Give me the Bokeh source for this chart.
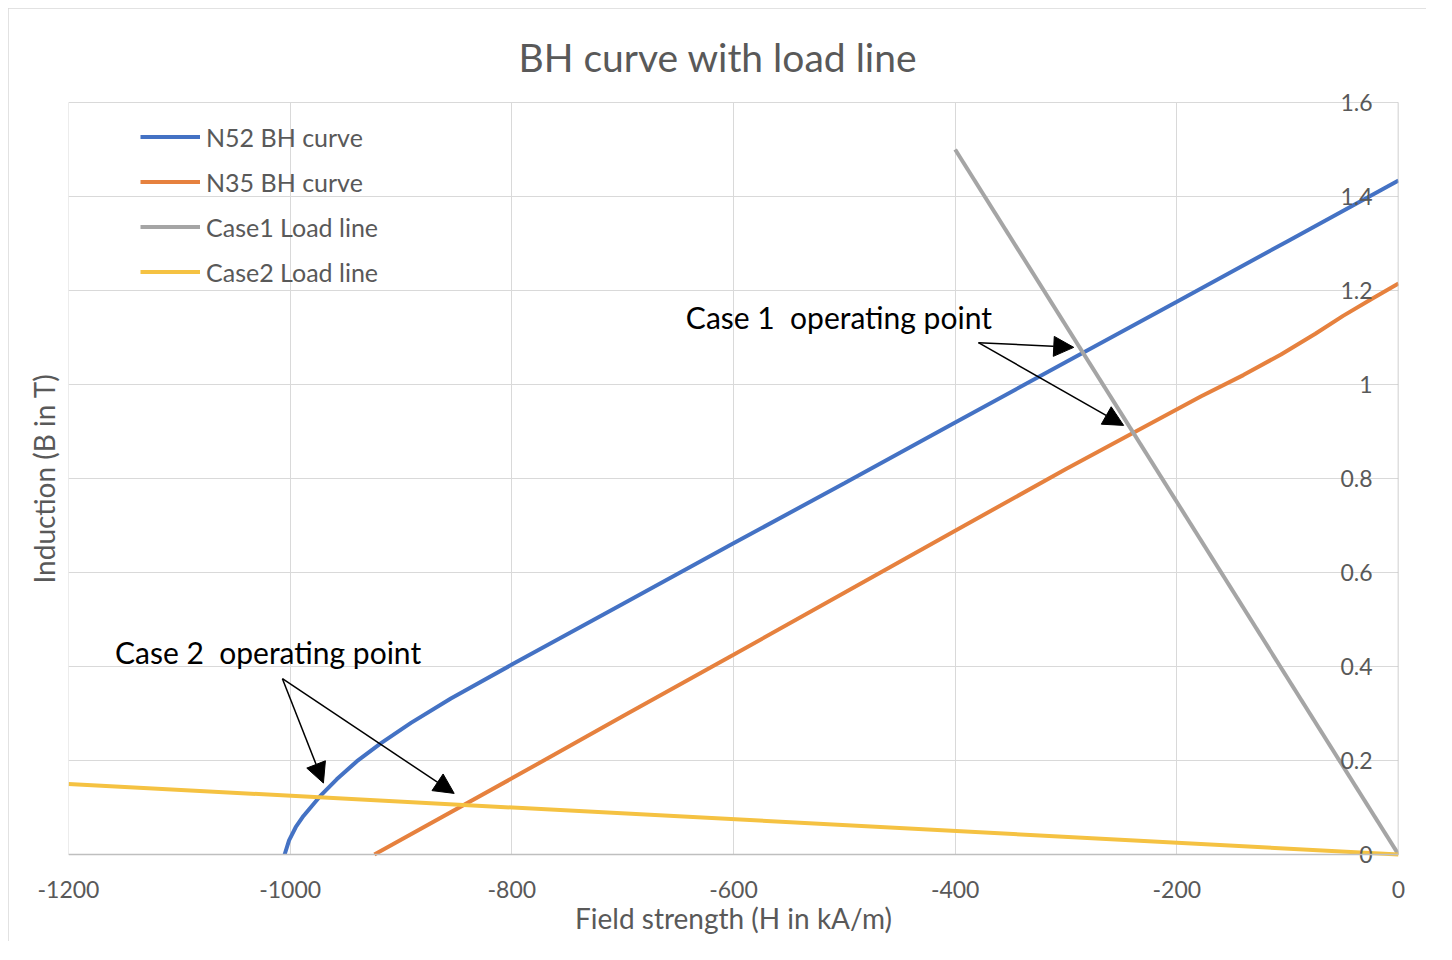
from bokeh.plotting import figure
from bokeh.models import (Label, Arrow, NormalHead, Span, FixedTicker, CustomJSTickFormatter,
                          LinearAxis, Grid)
from bokeh.embed import file_html
from bokeh.resources import INLINE

# ---------------- data ----------------
n52_h = [-1005, -1001, -995, -988, -973, -958, -940, -918, -891, -855, -800, -700, -600, -500, -400, -300, -200, -100, 0]
n52_b = [0.0, 0.030, 0.058, 0.082, 0.124, 0.160, 0.198, 0.237, 0.280, 0.332, 0.404, 0.533, 0.662, 0.790, 0.919, 1.048, 1.176, 1.305, 1.434]

n35_h = [-924, -800, -700, -600, -500, -400, -300, -178, -140, -106, -75, -50, -25, 0]
n35_b = [0.0, 0.162, 0.294, 0.425, 0.557, 0.689, 0.820, 0.975, 1.020, 1.064, 1.108, 1.146, 1.181, 1.215]

case1_h = [-400, 0]
case1_b = [1.5, 0.0]

case2_h = [-1200, 0]
case2_b = [0.15, 0.0]

x_ticks = [-1200, -1000, -800, -600, -400, -200, 0]
x_tick_labels = ["-1200", "-1000", "-800", "-600", "-400", "-200", "0"]
y_ticks = [0, 0.2, 0.4, 0.6, 0.8, 1.0, 1.2, 1.4, 1.6]
y_tick_labels = ["0", "0.2", "0.4", "0.6", "0.8", "1", "1.2", "1.4", "1.6"]

case1_text = "Case 1\u00a0 operating point"
case1_text_pos = (-643, 1.143)
case1_arrow_start = (-379, 1.089)
case1_arrow_ends = [(-293, 1.079), (-248, 0.913)]

case2_text = "Case 2\u00a0 operating point"
case2_text_pos = (-1158, 0.43)
case2_arrow_start = (-1007, 0.374)
case2_arrow_ends = [(-970, 0.152), (-852, 0.130)]

# ---------------- styles ----------------
FONT = "Lato"
GREY_TEXT = "#595959"
GRID = "#D9D9D9"
AXIS = "#BFBFBF"
C_BLUE = "#4472C4"
C_ORANGE = "#E6813E"
C_GREY = "#A5A5A5"
C_YELLOW = "#F5C242"

X_MIN, X_MAX = x_ticks[0], x_ticks[-1]
Y_MIN, Y_MAX = y_ticks[0], y_ticks[-1]
PAD_PX = 18                      # room so end tick labels are not clipped
PX_PER_Y = 470.0
pad = PAD_PX / PX_PER_Y

p = figure(width=1418, height=933, x_range=(X_MIN, X_MAX), y_range=(Y_MIN - pad, Y_MAX + pad),
           output_backend="svg", toolbar_location=None,
           min_border_left=60, min_border_right=28, min_border_top=94 - PAD_PX,
           min_border_bottom=87 - PAD_PX,
           title="BH curve with load line")
p.styles = {"margin-left": "8px", "margin-top": "8px",
            "outline": "1px solid " + GRID, "outline-offset": "-1px"}
p.outline_line_color = None
p.background_fill_color = "white"
p.border_fill_color = "white"

p.title.text_font = FONT
p.title.text_font_size = "39px"
p.title.text_font_style = "normal"
p.title.text_color = GREY_TEXT
p.title.align = "left"
p.title.offset = 450
p.title.standoff = 10

# x axis (labels and title; the axis line itself is drawn at B = 0 below)
p.xaxis.ticker = FixedTicker(ticks=x_ticks)
p.xaxis.major_label_overrides = dict(zip(x_ticks, x_tick_labels))
p.xaxis.axis_line_color = None
p.xaxis.major_tick_line_color = None
p.xaxis.minor_tick_line_color = None
p.xaxis.major_label_text_font = FONT
p.xaxis.major_label_text_font_size = "23px"
p.xaxis.major_label_text_color = GREY_TEXT
p.xaxis.major_label_standoff = 20 - PAD_PX
p.xaxis.axis_label = "Field strength (H in kA/m)"
p.xaxis.axis_label_text_font = FONT
p.xaxis.axis_label_text_font_size = "28px"
p.xaxis.axis_label_text_font_style = "normal"
p.xaxis.axis_label_text_color = GREY_TEXT
p.xaxis.axis_label_standoff = 0

# y axis (left, title only)
p.yaxis.ticker = FixedTicker(ticks=y_ticks)
p.yaxis.formatter = CustomJSTickFormatter(code="return ''")
p.yaxis.axis_line_color = None
p.yaxis.major_tick_line_color = None
p.yaxis.minor_tick_line_color = None
p.yaxis.major_label_standoff = 0
p.yaxis.axis_label = "Induction (B in T)"
p.yaxis.axis_label_text_font = FONT
p.yaxis.axis_label_text_font_size = "28px"
p.yaxis.axis_label_text_font_style = "normal"
p.yaxis.axis_label_text_color = GREY_TEXT
p.yaxis.axis_label_standoff = 2

# value axis crossing at H = 0 (labels to its left, as in the spreadsheet chart)
yfmt = CustomJSTickFormatter(args=dict(tvals=y_ticks, tlabs=y_tick_labels), code="""
    const i = tvals.findIndex(t => Math.abs(t - tick) < 1e-9);
    return i >= 0 ? tlabs[i] : '';
""")
vaxis = LinearAxis(fixed_location=X_MAX, bounds=(Y_MIN, Y_MAX),
                   ticker=FixedTicker(ticks=y_ticks), formatter=yfmt,
                   axis_line_color=AXIS, axis_line_width=1.5,
                   major_tick_line_color=None, minor_tick_line_color=None,
                   major_tick_in=0, major_tick_out=0, minor_tick_in=0, minor_tick_out=0,
                   major_label_standoff=26, major_label_text_font=FONT,
                   major_label_text_font_size="23px", major_label_text_color=GREY_TEXT)
p.add_layout(vaxis, "left")

# left plot-area edge (H = -1200), drawn as an unlabeled axis line
edge = LinearAxis(fixed_location=X_MIN, bounds=(Y_MIN, Y_MAX),
                  ticker=FixedTicker(ticks=[]), formatter=CustomJSTickFormatter(code="return ''"),
                  axis_line_color=GRID, axis_line_width=1,
                  major_tick_line_color=None, minor_tick_line_color=None,
                  major_tick_in=0, major_tick_out=0, minor_tick_in=0, minor_tick_out=0)
p.add_layout(edge, "left")

# grid
p.ygrid.grid_line_color = GRID
p.ygrid.grid_line_width = 1
if "cross_bounds" in Grid.properties():
    p.xgrid.grid_line_color = GRID
    p.xgrid.grid_line_width = 1
    p.xgrid.cross_bounds = (Y_MIN, Y_MAX)
else:
    p.xgrid.grid_line_color = None
    inner = x_ticks[1:-1]
    p.segment(x0=inner, y0=[Y_MIN] * len(inner), x1=inner, y1=[Y_MAX] * len(inner),
              line_color=GRID, line_width=1, level="underlay")

# category (H) axis line at B = 0
p.add_layout(Span(location=Y_MIN, dimension="width", line_color=AXIS, line_width=1.5))

# ---------------- series ----------------
p.line(n52_h, n52_b, line_color=C_BLUE, line_width=4, legend_label="N52 BH curve")
p.line(n35_h, n35_b, line_color=C_ORANGE, line_width=4, legend_label="N35 BH curve")
p.line(case1_h, case1_b, line_color=C_GREY, line_width=4, legend_label="Case1 Load line")
p.line(case2_h, case2_b, line_color=C_YELLOW, line_width=4, legend_label="Case2 Load line")

leg = p.legend[0]
leg.location = (72, 560 + PAD_PX)
leg.padding = 0
leg.margin = 0
leg.spacing = 0
leg.glyph_width = 60
leg.glyph_height = 45
leg.label_height = 45
leg.label_standoff = 6
leg.label_text_font = FONT
leg.label_text_font_size = "25px"
leg.label_text_color = GREY_TEXT
leg.border_line_color = None
leg.background_fill_alpha = 0

# ---------------- annotations ----------------
for txt, pos in [(case1_text, case1_text_pos), (case2_text, case2_text_pos)]:
    p.add_layout(Label(x=pos[0], y=pos[1], text=txt, text_font=FONT, text_font_size="30px",
                       text_color="black", text_align="left", text_baseline="middle"))

for start, ends in [(case1_arrow_start, case1_arrow_ends), (case2_arrow_start, case2_arrow_ends)]:
    for e in ends:
        p.add_layout(Arrow(x_start=start[0], y_start=start[1], x_end=e[0], y_end=e[1],
                           line_color="black", line_width=1.5,
                           end=NormalHead(size=20, fill_color="black", line_color="black")))

open("out.html", "w").write(file_html(p, INLINE))
